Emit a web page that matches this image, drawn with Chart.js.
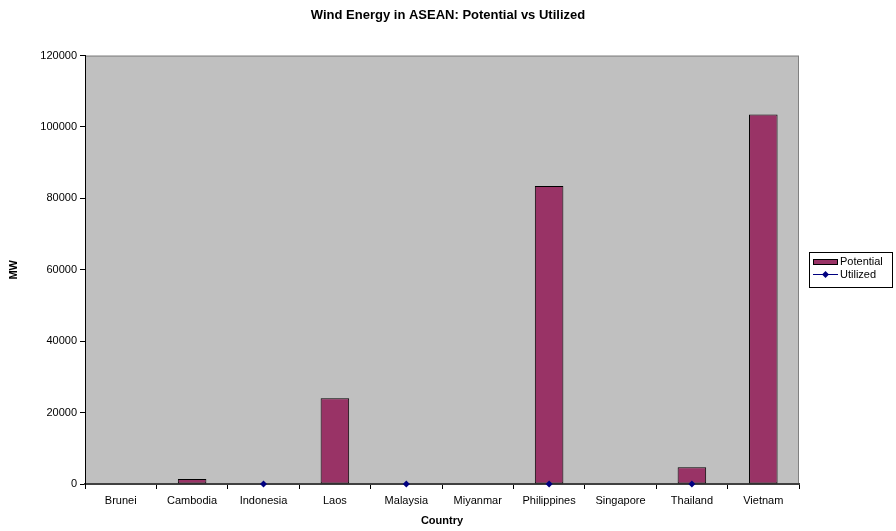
<!DOCTYPE html>
<html>
<head>
<meta charset="utf-8">
<title>Wind Energy in ASEAN: Potential vs Utilized</title>
<script src="https://cdn.jsdelivr.net/npm/chart.js@4/dist/chart.umd.min.js"></script>
<style>
  html, body { margin: 0; padding: 0; background: #ffffff; }
  #wrap { width: 896px; height: 531px; position: relative; }
</style>
</head>
<body>
<div id="wrap"><canvas id="chart" width="896" height="531"></canvas></div>
<script>
// Countries on the category axis
const countries = ['Brunei', 'Cambodia', 'Indonesia', 'Laos', 'Malaysia', 'Miyanmar', 'Philippines', 'Singapore', 'Thailand', 'Vietnam'];
// Wind potential, MW
const potential = [null, 1400, null, 24000, null, null, 83500, null, 4700, 103500];
// Installed (utilized) wind capacity, MW
const utilized = [null, null, 0, null, 0, null, 0, null, 0, null];
// Value axis
const yTicks = [0, 20000, 40000, 60000, 80000, 100000, 120000];

const FONT = 'Arial, "Liberation Sans", sans-serif';

// Grey plot area with its frame
const plotArea = {
  id: 'plotArea',
  beforeDraw(chart) {
    const { ctx, chartArea: a } = chart;
    ctx.save();
    ctx.fillStyle = '#c0c0c0';
    ctx.fillRect(a.left, a.top, a.right - a.left, a.bottom - a.top);
    ctx.strokeStyle = '#808080';
    ctx.lineWidth = 1;
    ctx.strokeRect(a.left + 0.5, a.top + 0.5, a.right - a.left - 1, a.bottom - a.top);
    ctx.restore();
  }
};

// Boxed legend in the right-hand margin
const boxLegend = {
  id: 'boxLegend',
  afterDraw(chart) {
    const { ctx } = chart;
    const ds = chart.data.datasets;
    const x = 809, y = 252, w = 83, h = 35;
    ctx.save();
    ctx.fillStyle = '#ffffff';
    ctx.fillRect(x, y, w, h);
    ctx.strokeStyle = '#000000';
    ctx.lineWidth = 1;
    ctx.strokeRect(x + 0.5, y + 0.5, w, h);
    // bar swatch
    ctx.fillStyle = ds[0].backgroundColor;
    ctx.fillRect(x + 4, y + 7, 25, 6);
    ctx.strokeStyle = '#000000';
    ctx.strokeRect(x + 4.5, y + 7.5, 24, 5);
    // line swatch with marker
    const ly = y + 22.5;
    ctx.strokeStyle = ds[1].borderColor;
    ctx.beginPath();
    ctx.moveTo(x + 4, ly);
    ctx.lineTo(x + 29, ly);
    ctx.stroke();
    ctx.fillStyle = ds[1].pointBackgroundColor;
    ctx.beginPath();
    ctx.moveTo(x + 16.5, ly - 3.5);
    ctx.lineTo(x + 20, ly);
    ctx.lineTo(x + 16.5, ly + 3.5);
    ctx.lineTo(x + 13, ly);
    ctx.closePath();
    ctx.fill();
    // labels
    ctx.fillStyle = '#000000';
    ctx.font = '11px ' + FONT;
    ctx.textBaseline = 'middle';
    ctx.textAlign = 'left';
    ctx.fillText(ds[0].label, x + 31, y + 10);
    ctx.fillText(ds[1].label, x + 31, ly + 0.5);
    ctx.restore();
  }
};

new Chart(document.getElementById('chart'), {
  type: 'bar',
  data: {
    labels: countries,
    datasets: [
      {
        type: 'bar',
        label: 'Potential',
        data: potential,
        backgroundColor: '#993366',
        borderColor: '#000000',
        borderWidth: 1,
        borderSkipped: false,
        categoryPercentage: 1,
        barPercentage: 0.4,
        order: 2
      },
      {
        type: 'line',
        label: 'Utilized',
        data: utilized,
        borderColor: '#000080',
        borderWidth: 1,
        backgroundColor: '#000080',
        pointBackgroundColor: '#000080',
        pointBorderColor: '#000080',
        pointStyle: 'rectRot',
        pointRadius: 3.5,
        pointBorderWidth: 0,
        spanGaps: false,
        clip: false,
        order: 1
      }
    ]
  },
  options: {
    responsive: false,
    animation: false,
    devicePixelRatio: 1,
    layout: { padding: 0 },
    plugins: {
      legend: { display: false },
      tooltip: { enabled: false },
      title: {
        display: true,
        text: 'Wind Energy in ASEAN: Potential vs Utilized',
        color: '#000000',
        font: { family: FONT, size: 13, weight: 'bold' },
        padding: { top: 8, bottom: 32 }
      }
    },
    scales: {
      x: {
        offset: true,
        grid: {
          offset: true,
          drawOnChartArea: false,
          drawTicks: true,
          tickLength: 5,
          tickColor: '#000000'
        },
        border: { display: true, color: '#404040', width: 2 },
        ticks: {
          color: '#000000',
          font: { family: FONT, size: 11 },
          padding: 5,
          maxRotation: 0,
          autoSkip: false
        },
        title: {
          display: true,
          text: 'Country',
          color: '#000000',
          font: { family: FONT, size: 11, weight: 'bold' },
          padding: { top: 0, bottom: 3 }
        },
        afterFit(scale) { scale.height = 47; }
      },
      y: {
        min: 0,
        max: 120000,
        afterBuildTicks(scale) { scale.ticks = yTicks.map(v => ({ value: v })); },
        grid: {
          drawOnChartArea: false,
          drawTicks: true,
          tickLength: 5,
          tickColor: '#000000'
        },
        border: { display: true, color: '#000000', width: 1 },
        ticks: {
          color: '#000000',
          font: { family: FONT, size: 11 },
          padding: 3,
          callback: v => String(v)
        },
        title: {
          display: true,
          text: 'MW',
          color: '#000000',
          font: { family: FONT, size: 11, weight: 'bold' },
          padding: { top: 7, bottom: 0 }
        },
        afterFit(scale) { scale.width = 85; }
      },
      // empty right-hand margin that holds the legend box
      margin: {
        type: 'linear',
        position: 'right',
        display: true,
        grid: { display: false },
        border: { display: false },
        ticks: { display: false },
        afterFit(scale) { scale.width = 97; }
      }
    }
  },
  plugins: [plotArea, boxLegend]
});
</script>
</body>
</html>
